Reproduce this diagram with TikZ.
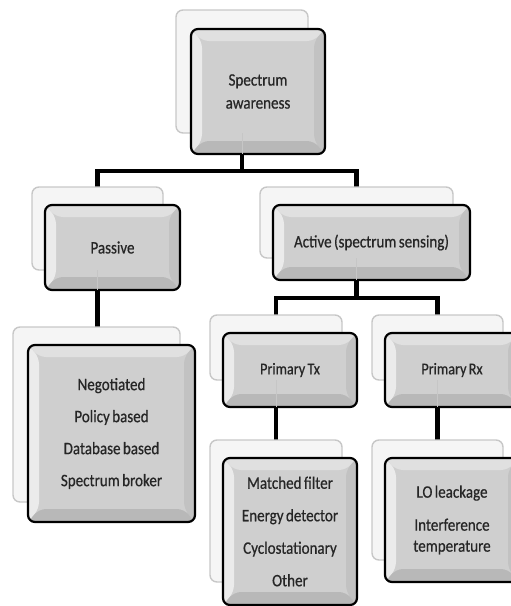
\documentclass[tikz,border=0pt]{standalone}
\usepackage{fontspec}
\setmainfont{Carlito}[FakeStretch=0.86, FakeBold=0.6, WordSpace=0.7]
\usetikzlibrary{calc}
\pgfdeclarelayer{bg}
\pgfsetlayers{bg,main}
\definecolor{bevmid}{gray}{0.81}
\definecolor{bevtop}{gray}{0.88}
\definecolor{bevleft}{gray}{0.92}
\definecolor{bevright}{gray}{0.76}
\definecolor{bevbot}{gray}{0.72}
\definecolor{backfill}{gray}{0.96}
\definecolor{backline}{gray}{0.78}
\definecolor{txt}{gray}{0.15}
\tikzset{
  backbox/.style={rectangle, rounded corners=7pt, fill=backfill, draw=backline, line width=1.4pt, inner sep=0pt, outer sep=0pt},
  frontbox/.style={rectangle, rounded corners=7pt, fill=bevmid, draw=black, line width=2.2pt, inner sep=0pt, outer sep=0pt,
    text=txt, align=center, font=\fontsize{17.5}{22}\selectfont,
    path picture={
      \coordinate (ppsw) at (path picture bounding box.south west);
      \coordinate (ppne) at (path picture bounding box.north east);
      \coordinate (ppnw) at (path picture bounding box.north west);
      \coordinate (ppse) at (path picture bounding box.south east);
      \fill[bevleft] (ppsw) -- (ppnw) -- ($(ppnw)+(11,12)$) -- ($(ppsw)+(11,-13)$) -- cycle;
      \fill[bevtop] (ppnw) -- (ppne) -- ($(ppne)+(-11,12)$) -- ($(ppnw)+(11,12)$) -- cycle;
      \fill[bevright] (ppne) -- (ppse) -- ($(ppse)+(-11,-13)$) -- ($(ppne)+(-11,12)$) -- cycle;
      \fill[bevbot] (ppse) -- (ppsw) -- ($(ppsw)+(11,-13)$) -- ($(ppse)+(-11,-13)$) -- cycle;
    }},
  conn/.style={draw=black, line width=4.5pt, line join=miter},
  ghost/.style={draw=gray!45, line width=1pt},
}
\begin{document}
\begin{tikzpicture}[x=1pt, y=-1pt]
\useasboundingbox (0,0) rectangle (511,606);
\clip (0,0) rectangle (511,606);
% back boxes
\node[backbox, minimum width=132pt, minimum height=123pt] (rootB) at (242,71.5) {};
\node[backbox, minimum width=131pt, minimum height=83pt] (passB) at (97.5,228.5) {};
\node[backbox, minimum width=193pt, minimum height=71pt] (actB) at (356.5,222.5) {};
\node[backbox, minimum width=132pt, minimum height=65pt] (txB) at (276,347.5) {};
\node[backbox, minimum width=131pt, minimum height=65pt] (rxB) at (437.5,347.5) {};
\node[backbox, minimum width=167pt, minimum height=175pt] (pchB) at (96.5,414.5) {};
\node[backbox, minimum width=132pt, minimum height=142pt] (txchB) at (276,511) {};
\node[backbox, minimum width=131pt, minimum height=120pt] (rxchB) at (437.5,500) {};
% front boxes
\node[frontbox, minimum width=134pt, minimum height=125pt, font=\fontsize{17.5}{23}\selectfont] (root) at (258,91.5) {Spectrum\\awareness};
\node[frontbox, minimum width=135pt, minimum height=85pt] (pass) at (112.5,247.5) {Passive};
\node[frontbox, minimum width=197pt, minimum height=75pt] (act) at (371.5,242.5) {Active (spectrum sensing)};
\node[frontbox, minimum width=134pt, minimum height=74pt, font=\fontsize{16.5}{20}\selectfont] (tx) at (290,370) {Primary Tx};
\node[frontbox, minimum width=134pt, minimum height=74pt, font=\fontsize{16.5}{20}\selectfont] (rx) at (452,370) {Primary Rx};
\node[frontbox, minimum width=167pt, minimum height=177pt, font=\fontsize{17.5}{32}\selectfont] (pch) at (111.5,433.5) {Negotiated\\Policy based\\Database based\\Spectrum broker};
\node[frontbox, minimum width=134pt, minimum height=147pt, font=\fontsize{17.5}{32.5}\selectfont] (txch) at (290,531.5) {Matched filter\\Energy detector\\Cyclostationary\\Other};
\node[frontbox, minimum width=134pt, minimum height=124pt, font=\fontsize{17.5}{21}\selectfont] (rxch) at (452,520) {LO leackage\\[12pt]Interference\\temperature};
% connectors
\coordinate (bar1) at (0,171);
\coordinate (bar2) at (0,298);
\begin{pgfonlayer}{bg}
\draw[conn] (rootB.south) -- (rootB.south |- bar1) -| (passB.north);
\draw[conn] (rootB.south |- bar1) -| (actB.north);
\draw[conn] (passB.south) -- (passB.south |- pchB.north);
\draw[conn] (actB.south) -- (actB.south |- bar2) -| (txB.north);
\draw[conn] (actB.south |- bar2) -| (rxB.north);
\draw[conn] (txB.south) -- (txchB.north);
\draw[conn] (rxB.south) -- (rxchB.north);
\end{pgfonlayer}
% faint traces inside front boxes
\draw[ghost] (rootB.south) -- (rootB.south |- root.south);
\draw[ghost] (passB.south) -- (passB.south |- pass.south);
\draw[ghost] (actB.south) -- (actB.south |- act.south);
\draw[ghost] (txB.south) -- (txB.south |- tx.south);
\draw[ghost] (rxB.south) -- (rxB.south |- rx.south);
\end{tikzpicture}
\end{document}
